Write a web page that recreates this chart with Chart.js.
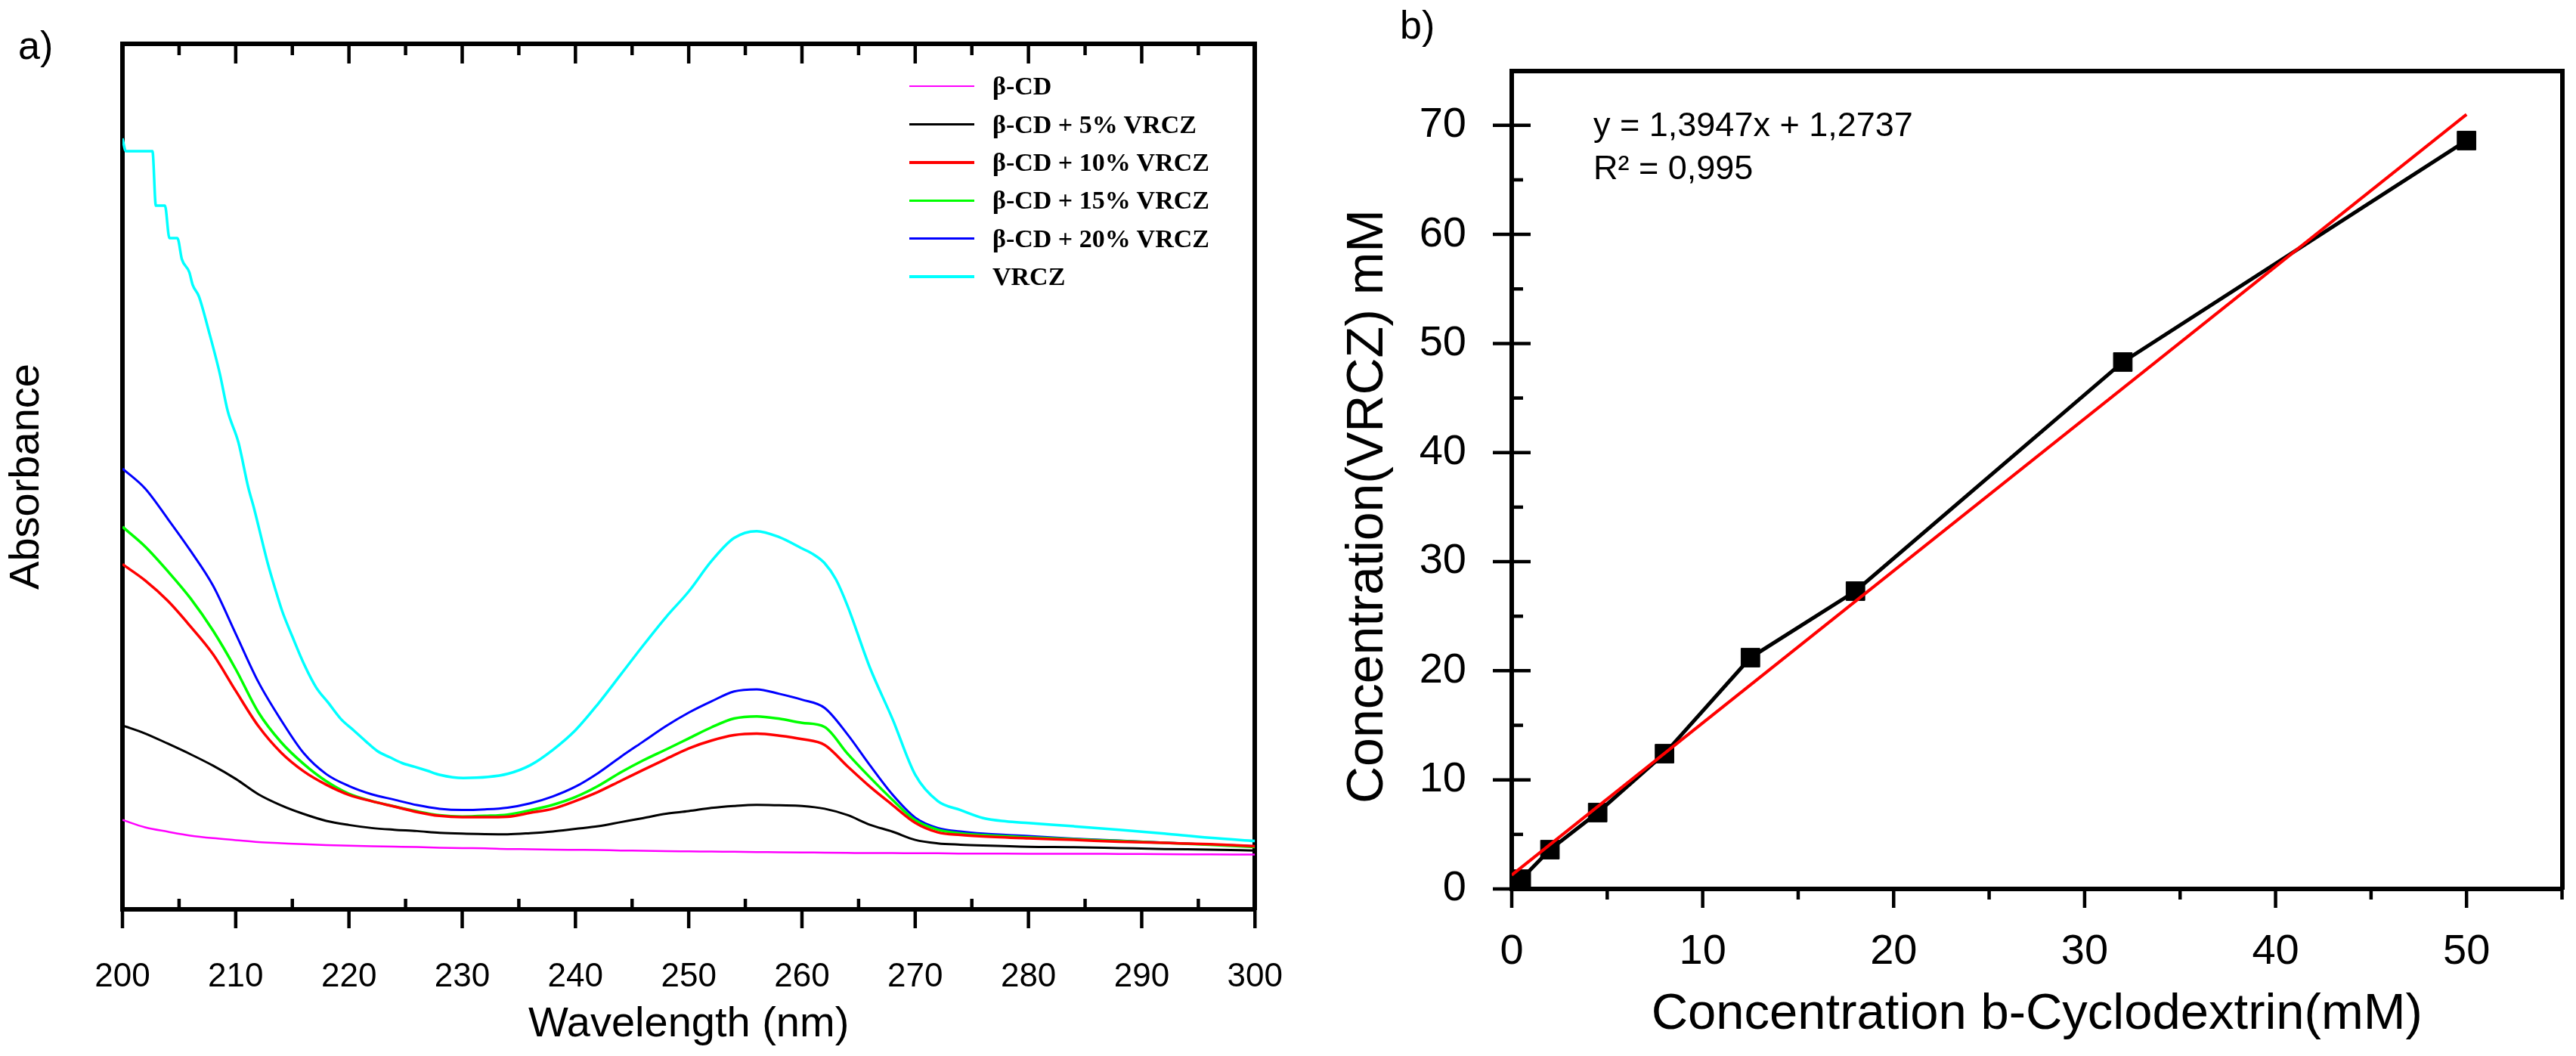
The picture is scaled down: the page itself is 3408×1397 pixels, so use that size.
<!DOCTYPE html>
<html>
<head>
<meta charset="utf-8">
<script src="https://cdn.jsdelivr.net/npm/chart.js@4.4.1/dist/chart.umd.min.js"></script>
<style>
  html, body { margin: 0; padding: 0; background: #fff; }
  body { width: 3408px; height: 1397px; position: relative; overflow: hidden; font-family: 'Liberation Sans', Arial, sans-serif; }
  .wrap { position: absolute; top: 0; height: 1397px; }
  .panel-label { position: absolute; font-size: 52px; line-height: 52px; color: #000; }
  #legendA { position: absolute; left: 1203px; top: 89px; font-family: 'Liberation Serif', 'Times New Roman', serif; font-weight: bold; font-size: 34px; color: #000; }
  #legendA .row { height: 50.4px; display: flex; align-items: center; white-space: nowrap; }
  #legendA .swatch { width: 86px; margin-right: 24px; }
  #eqB { position: absolute; left: 2108px; top: 135.5px; font-size: 45px; line-height: 57px; color: #000; white-space: nowrap; }
  #yTitleB { position: absolute; left: 1805px; top: 670px; transform: translate(-50%, -50%) rotate(-90deg);
             font-size: 68px; line-height: 68px; white-space: nowrap; color: #000; }
</style>
</head>
<body>
<div class="wrap" style="left:0; width:1760px;"><canvas id="chartA"></canvas></div>
<div class="wrap" style="left:1760px; width:1648px;"><canvas id="chartB"></canvas></div>
<div class="panel-label" style="left:24px; top:34px;">a)</div>
<div class="panel-label" style="left:1852px; top:7px;">b)</div>
<div id="legendA"></div>
<div id="eqB">y = 1,3947x + 1,2737<br>R² = 0,995</div>
<div id="yTitleB"></div>
<script>
// ---------------- Panel a) data ----------------
const wavelengths = [200,202,204,206,208,210,212,214,216,218,220,222,224,226,228,230,232,
  234,236,238,240,242,244,246,248,250,252,254,256,258,260,262,264,266,268,270,272,274,276,
  280,284,288,292,296,300];
const absBCD = [0.413,0.379,0.359,0.341,0.329,0.320,0.311,0.306,0.301,0.297,0.294,0.292,0.290,0.288,0.285,0.283,0.282,
  0.279,0.278,0.276,0.275,0.274,0.272,0.271,0.269,0.268,0.267,0.266,0.265,0.264,0.263,0.262,0.261,0.260,0.260,0.259,0.259,0.258,0.258,
  0.257,0.257,0.256,0.255,0.254,0.253];
const abs5 = [0.850,0.813,0.766,0.717,0.664,0.603,0.532,0.481,0.441,0.409,0.390,0.376,0.368,0.362,0.354,0.350,0.348,
  0.347,0.352,0.360,0.372,0.384,0.403,0.422,0.442,0.454,0.469,0.478,0.483,0.481,0.478,0.465,0.436,0.391,0.359,0.321,0.305,0.299,0.295,
  0.289,0.287,0.283,0.279,0.276,0.272];
const abs10 = [1.595,1.520,1.426,1.308,1.179,1.010,0.847,0.725,0.638,0.576,0.529,0.500,0.475,0.450,0.432,0.426,0.426,
  0.428,0.446,0.465,0.501,0.543,0.594,0.645,0.695,0.744,0.780,0.805,0.812,0.803,0.787,0.760,0.662,0.567,0.482,0.400,0.356,0.344,0.337,
  0.328,0.321,0.313,0.307,0.301,0.292];
const abs15 = [1.768,1.677,1.563,1.438,1.288,1.110,0.911,0.773,0.672,0.592,0.534,0.501,0.476,0.453,0.435,0.429,0.432,
  0.438,0.458,0.483,0.519,0.570,0.633,0.689,0.739,0.790,0.841,0.882,0.892,0.881,0.862,0.843,0.721,0.610,0.506,0.412,0.368,0.351,0.343,
  0.333,0.324,0.316,0.307,0.299,0.288];
const abs20 = [2.037,1.945,1.805,1.658,1.496,1.274,1.051,0.875,0.722,0.625,0.570,0.532,0.507,0.482,0.465,0.459,0.462,
  0.470,0.490,0.522,0.567,0.630,0.705,0.776,0.847,0.909,0.961,1.007,1.017,0.996,0.969,0.931,0.810,0.666,0.530,0.424,0.376,0.360,0.350,
  0.339,0.327,0.318,0.308,0.300,0.292];
const wavelengthsVRCZ = [200,200.3,202.65,202.95,203.75,204.15,204.85,205.25,205.9,206.2,
  206.75,207.6,208.6,209.3,210.24,211.1,211.64,212.4,212.83,213.48,
  214.1,215,216.07,217.1,218.2,219.3,220.4,221.5,222.5,223.6,
  224.7,225.8,226.9,228,230.1,232.3,234,236,238,240,
  242,244,246,248,250,252,254,256,258,260,
  261,262,263,264,266,268,270,272,274,276,
  278,280,284,288,292,296,300];
const absVRCZ = [3.563,3.504,3.504,3.252,3.252,3.102,3.102,3.004,2.945,2.886,
  2.833,2.677,2.475,2.302,2.158,1.952,1.849,1.688,1.599,1.482,
  1.379,1.261,1.129,1.026,0.953,0.879,0.828,0.776,0.732,0.703,
  0.676,0.659,0.641,0.622,0.607,0.612,0.626,0.666,0.737,0.828,
  0.950,1.085,1.221,1.351,1.469,1.609,1.716,1.748,1.720,1.668,
  1.641,1.600,1.525,1.406,1.117,0.879,0.622,0.500,0.459,0.422,
  0.407,0.399,0.384,0.368,0.350,0.331,0.316];
const seriesLabelsA = ['β-CD','β-CD + 5% VRCZ','β-CD + 10% VRCZ','β-CD + 15% VRCZ','β-CD + 20% VRCZ','VRCZ'];
const xTicksA = [200,210,220,230,240,250,260,270,280,290,300];
const xMinorA = [205,215,225,235,245,255,265,275,285,295];
const xTopMajorA = [210,220,230,240,250,260,270,280,290];

// ---------------- Panel b) data ----------------
const concBCD = [0.5, 2, 4.5, 8, 12.5, 18, 32, 50];
const concVRCZ = [0.9, 3.6, 7.0, 12.4, 21.2, 27.3, 48.3, 68.6];
const trendX = [0, 50];
const trendY = [1.27, 71.0];
const xTicksB = [0,10,20,30,40,50];
const xMinorB = [5,15,25,35,45,55];
const yTicksB = [0,10,20,30,40,50,60,70];
const yMinorB = [5,15,25,35,45,55,65];
const xTitleB = 'Concentration b-Cyclodextrin(mM)';
const yTitleB = 'Concentration(VRCZ) mM';

Chart.defaults.font.family = "'Liberation Sans', Arial, sans-serif";
Chart.defaults.color = '#000';
Chart.defaults.animation = false;

const pts = (xs, ys) => xs.map((x, i) => ({x: x, y: ys[i]}));
const setTicks = arr => (s) => { s.ticks = arr.map(v => ({value: v})); };

// plugin: draws tick marks (inward/outward) along the frame using the chart's scales
const frameTicks = {
  id: 'frameTicks',
  afterDraw(chart, args, opts) {
    const ctx = chart.ctx, ca = chart.chartArea;
    ctx.save();
    ctx.strokeStyle = '#000';
    ctx.lineCap = 'butt';
    (opts.marks || []).forEach(m => {
      const s = chart.scales[m.scale];
      ctx.lineWidth = m.width;
      m.values.forEach(v => {
        const p = s.getPixelForValue(v);
        ctx.beginPath();
        if (s.isHorizontal()) {
          const y0 = m.edge === 'top' ? ca.top : ca.bottom;
          ctx.moveTo(p, y0 + m.from); ctx.lineTo(p, y0 + m.to);
        } else {
          const x0 = m.edge === 'left' ? ca.left : ca.right;
          ctx.moveTo(x0 + m.from, p); ctx.lineTo(x0 + m.to, p);
        }
        ctx.stroke();
      });
    });
    ctx.restore();
  }
};

const frameScale = (axis, position, fitProp, min, max) => ({
  type: 'linear', axis: axis, position: position, min: min, max: max,
  afterFit: s => { s[fitProp] = 0; },
  ticks: {display: false},
  grid: {display: false, drawTicks: false},
  border: {display: true, color: '#000', width: 6}
});

// ---------------- Chart a) ----------------
const colorsA = ['#ff00ff', '#000000', '#ff0000', '#00ff00', '#0000ff', '#00ffff'];
const widthsA = [2.5, 3, 3.5, 3.5, 3, 3.5];
const valuesA = [absBCD, abs5, abs10, abs15, abs20];
const datasetsA = seriesLabelsA.map((label, i) => ({
  label: label,
  data: i < 5 ? pts(wavelengths, valuesA[i]) : pts(wavelengthsVRCZ, absVRCZ),
  borderColor: colorsA[i],
  backgroundColor: colorsA[i],
  borderWidth: widthsA[i],
  pointRadius: 0,
  cubicInterpolationMode: 'monotone',
  fill: false
}));

const chartA = new Chart(document.getElementById('chartA'), {
  type: 'line',
  data: {datasets: datasetsA},
  options: {
    responsive: true, maintainAspectRatio: false,
    layout: {padding: {top: 58, right: 55, left: 0, bottom: 0}},
    plugins: {legend: {display: false}, tooltip: {enabled: false},
      frameTicks: {marks: [
        {scale: 'x', edge: 'bottom', values: xTicksA, from: 0, to: 25, width: 4.5},
        {scale: 'x', edge: 'bottom', values: xMinorA, from: 0, to: -14, width: 4.5},
        {scale: 'x', edge: 'top', values: xTopMajorA, from: 0, to: 26, width: 4.5},
        {scale: 'x', edge: 'top', values: xMinorA, from: 0, to: 15, width: 4.5}
      ]}},
    scales: {
      x: {
        type: 'linear', position: 'bottom', min: 200, max: 300,
        afterBuildTicks: setTicks(xTicksA),
        afterFit: s => { s.height = 194; },
        ticks: {font: {size: 44}, color: '#000', padding: 63, autoSkip: false, maxRotation: 0},
        grid: {display: false, drawTicks: false},
        border: {display: true, color: '#000', width: 6},
        title: {display: true, text: 'Wavelength (nm)', color: '#000', font: {size: 56}, padding: {top: 0, bottom: 8}}
      },
      y: {
        type: 'linear', position: 'left', min: 0, max: 4,
        afterFit: s => { s.width = 162; },
        ticks: {display: false},
        grid: {display: false, drawTicks: false},
        border: {display: true, color: '#000', width: 6},
        title: {display: true, text: 'Absorbance', color: '#000', font: {size: 56}, padding: {top: 2, bottom: 0}}
      },
      x2: frameScale('x', 'top', 'height', 200, 300),
      y2: frameScale('y', 'right', 'width', 0, 4)
    }
  },
  plugins: [frameTicks]
});

// HTML legend built from the chart's datasets
const legendEl = document.getElementById('legendA');
chartA.data.datasets.forEach(ds => {
  const row = document.createElement('div'); row.className = 'row';
  const sw = document.createElement('div'); sw.className = 'swatch';
  sw.style.height = ds.borderWidth + 'px'; sw.style.background = ds.borderColor;
  const tx = document.createElement('span'); tx.textContent = ds.label;
  row.appendChild(sw); row.appendChild(tx); legendEl.appendChild(row);
});

// ---------------- Chart b) ----------------
const chartB = new Chart(document.getElementById('chartB'), {
  type: 'scatter',
  data: {datasets: [
    {
      label: 'Linear fit',
      data: pts(trendX, trendY),
      showLine: true, borderColor: '#ff0000', borderWidth: 4,
      pointRadius: 0, fill: false, tension: 0
    },
    {
      label: 'Concentration(VRCZ)',
      data: pts(concBCD, concVRCZ),
      showLine: true, borderColor: '#000', borderWidth: 5, tension: 0,
      pointStyle: 'rect', pointRadius: 17.5, pointBorderWidth: 1,
      pointBackgroundColor: '#000', pointBorderColor: '#000', clip: false
    }
  ]},
  options: {
    responsive: true, maintainAspectRatio: false,
    layout: {padding: {top: 71, right: 12, left: 0, bottom: 0}},
    plugins: {legend: {display: false}, tooltip: {enabled: false},
      frameTicks: {marks: [
        {scale: 'x', edge: 'bottom', values: xTicksB, from: 0, to: 25, width: 4.5},
        {scale: 'x', edge: 'bottom', values: xMinorB, from: 0, to: 14, width: 4.5},
        {scale: 'y', edge: 'left', values: yTicksB, from: -25, to: 25, width: 4.5},
        {scale: 'y', edge: 'left', values: yMinorB, from: 0, to: 15, width: 4.5}
      ]}},
    scales: {
      x: {
        type: 'linear', position: 'bottom', min: 0, max: 55,
        afterBuildTicks: setTicks(xTicksB),
        afterFit: s => { s.height = 221; },
        ticks: {font: {size: 56}, color: '#000', padding: 50, autoSkip: false, maxRotation: 0},
        grid: {display: false, drawTicks: false},
        border: {display: true, color: '#000', width: 6},
        title: {display: true, text: xTitleB, color: '#000', font: {size: 67}, padding: {top: 0, bottom: 14}}
      },
      y: {
        type: 'linear', position: 'left', min: 0, max: 75,
        afterBuildTicks: setTicks(yTicksB),
        afterFit: s => { s.width = 240; },
        ticks: {font: {size: 56}, color: '#000', padding: 60, autoSkip: false},
        grid: {display: false, drawTicks: false},
        border: {display: true, color: '#000', width: 6},
        title: {display: false, text: yTitleB}
      },
      x2: frameScale('x', 'top', 'height', 0, 55),
      y2: frameScale('y', 'right', 'width', 0, 75)
    }
  },
  plugins: [frameTicks]
});
// y-axis title of panel b), placed slightly below the axis centre as in the original
document.getElementById('yTitleB').textContent = chartB.options.scales.y.title.text;
</script>
</body>
</html>
